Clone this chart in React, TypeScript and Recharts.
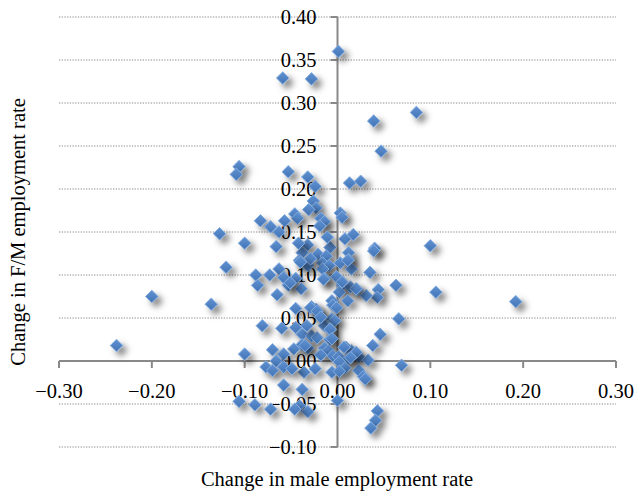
import React from "react";
import {
  ScatterChart,
  Scatter,
  XAxis,
  YAxis,
  ReferenceLine,
  ReferenceDot,
} from "recharts";

// Change in male employment rate (x) and change in F/M employment rate (y)
const maleChange: number[] = [
  0.001, -0.059, -0.028, 0.039, 0.085, 0.047, -0.106, -0.109, -0.053, -0.032,
  0.013, 0.025, -0.024, -0.026, -0.023, -0.031, -0.046, -0.043, -0.057, -0.083,
  -0.072, -0.018, -0.014, -0.019, 0.003, 0.005, -0.127, -0.063, 0.008, 0.017,
  -0.1, -0.066, -0.032, -0.008, 0.04, 0.1, -0.038, -0.021, -0.012, 0.012,
  0.012, -0.041, -0.032, -0.016, -0.009, 0.003, -0.12, -0.063, -0.016, 0.015,
  -0.088, -0.073, -0.058, -0.045, -0.014, -0.001, 0.035, -0.086, -0.053, -0.039,
  0.005, 0.014, 0.021, 0.063, 0.044, 0.043, 0.031, 0.106, 0.002, -0.2,
  -0.065, -0.136, 0.192, -0.006, -0.005, 0.011, -0.045, -0.028, -0.023, -0.001,
  -0.019, -0.006, -0.003, 0.066, -0.081, -0.06, -0.045, -0.014, -0.008, -0.038,
  -0.028, -0.022, 0.046, -0.008, -0.238, 0.038, -0.038, -0.032, -0.047, -0.07,
  -0.014, -0.01, 0.009, 0.015, -0.1, -0.058, -0.018, -0.005, 0.001, 0.023,
  0.012, 0.033, -0.066, 0.002, 0.069, -0.077, -0.07, -0.058, -0.036, -0.024,
  -0.006, 0.008, 0.002, 0.023, 0.028, -0.058, -0.038, 0.0, -0.106, -0.089,
  -0.072, -0.041, -0.032, 0.043, 0.041, 0.036, -0.051, -0.029, 0.02, 0.005,
  -0.015, 0.011, 0.039, -0.029, -0.022, -0.018, -0.008, -0.006, -0.033, -0.035,
  0.007, 0.02, -0.04, -0.011, -0.042, -0.049, -0.046, 0.03, 0.014,
];
const fmChange: number[] = [
  0.36, 0.329, 0.328, 0.279, 0.289, 0.244, 0.226, 0.217, 0.22, 0.214,
  0.207, 0.209, 0.203, 0.186, 0.178, 0.176, 0.171, 0.166, 0.163, 0.163,
  0.156, 0.166, 0.162, 0.157, 0.172, 0.167, 0.148, 0.15, 0.142, 0.147,
  0.137, 0.133, 0.135, 0.132, 0.131, 0.134, 0.126, 0.124, 0.122, 0.126,
  0.118, 0.117, 0.111, 0.114, 0.111, 0.114, 0.109, 0.107, 0.107, 0.107,
  0.1, 0.1, 0.097, 0.096, 0.096, 0.098, 0.103, 0.088, 0.088, 0.084,
  0.088, 0.086, 0.083, 0.088, 0.083, 0.074, 0.076, 0.08, 0.08, 0.075,
  0.077, 0.066, 0.069, 0.07, 0.065, 0.07, 0.061, 0.063, 0.06, 0.062,
  0.053, 0.049, 0.047, 0.049, 0.041, 0.038, 0.039, 0.041, 0.036, 0.031,
  0.029, 0.027, 0.031, 0.025, 0.018, 0.018, 0.019, 0.015, 0.014, 0.013,
  0.015, 0.012, 0.016, 0.012, 0.008, 0.008, 0.007, 0.006, 0.005, 0.005,
  0.003, 0.001, 0.0, -0.001, -0.005, -0.007, -0.011, -0.007, -0.013, -0.009,
  -0.013, -0.008, -0.012, -0.011, -0.018, -0.028, -0.033, -0.046, -0.047, -0.051,
  -0.056, -0.052, -0.059, -0.058, -0.069, -0.078, 0.091, 0.119, 0.084, 0.092,
  0.095, 0.117, 0.128, 0.062, 0.058, 0.051, 0.037, 0.026, 0.041, 0.018,
  0.016, 0.01, 0.115, 0.144, 0.137, -0.009, -0.056, -0.021, 0.004,
];

const xTicks: number[] = [-0.3, -0.2, -0.1, 0, 0.1, 0.2, 0.3];
const xTickLabels: string[] = ["−0.30", "−0.20", "−0.10", "0.00", "0.10", "0.20", "0.30"];
const yTicks: number[] = [-0.1, -0.05, 0, 0.05, 0.1, 0.15, 0.2, 0.25, 0.3, 0.35, 0.4];
const yTickLabels: string[] = [
  "−0.10", "−0.05", "0.00", "0.05", "0.10", "0.15", "0.20", "0.25", "0.30", "0.35", "0.40",
];

const xTitle = "Change in male employment rate";
const yTitle = "Change in F/M employment rate";

const points = maleChange.map((x, i) => ({ x, y: fmChange[i] }));

const FONT = "'Liberation Serif', 'DejaVu Serif', serif";
const AXIS = "#898989";

const Diamond = (props: any) => {
  const { cx, cy } = props;
  if (cx == null || cy == null) return null;
  const r = 6.3;
  const d = `M${cx},${cy - r} L${cx + r},${cy} L${cx},${cy + r} L${cx - r},${cy} Z`;
  return (
    <path
      d={d}
      fill="url(#diamondFill)"
      stroke="#86AEE0"
      strokeWidth={1}
      filter="url(#diamondShadow)"
    />
  );
};

const XTick = (label: string) => (props: any) => {
  const { cx, cy } = props;
  if (cx == null || cy == null) return null;
  return (
    <g>
      <line x1={cx} y1={cy} x2={cx} y2={cy + 7} stroke={AXIS} strokeWidth={2} />
      <text
        x={cx}
        y={cy + 37}
        textAnchor="middle"
        fontFamily={FONT}
        fontSize={20.5}
        fill="#000"
      >
        {label}
      </text>
    </g>
  );
};

const YTick = (label: string) => (props: any) => {
  const { cx, cy } = props;
  if (cx == null || cy == null) return null;
  return (
    <g>
      <line x1={cx - 7} y1={cy} x2={cx} y2={cy} stroke={AXIS} strokeWidth={2} />
      <text
        x={cx - 21}
        y={cy + 7}
        textAnchor="end"
        fontFamily={FONT}
        fontSize={20.5}
        fill="#000"
      >
        {label}
      </text>
    </g>
  );
};

export default function App() {
  return (
    <div style={{ position: "absolute", left: 0, top: 0, width: 634, height: 495, background: "#fff" }}>
      <svg width={0} height={0} style={{ position: "absolute" }}>
        <defs>
          <linearGradient id="diamondFill" x1="0" y1="0" x2="0" y2="1">
            <stop offset="0%" stopColor="#6092D2" />
            <stop offset="100%" stopColor="#4374B5" />
          </linearGradient>
          <filter id="diamondShadow" x="-100%" y="-100%" width="300%" height="300%">
            <feDropShadow dx={4.5} dy={4.5} stdDeviation={3} floodColor="#000" floodOpacity={0.5} />
          </filter>
        </defs>
      </svg>
      <ScatterChart
        width={634}
        height={495}
        margin={{ top: 17, right: 18, bottom: 48, left: 59 }}
      >
        <XAxis
          type="number"
          dataKey="x"
          domain={[-0.3, 0.3]}
          ticks={xTicks}
          height={0}
          tick={false}
          tickLine={false}
          axisLine={false}
        />
        <YAxis
          type="number"
          dataKey="y"
          domain={[-0.1, 0.4]}
          ticks={yTicks}
          width={0}
          tick={false}
          tickLine={false}
          axisLine={false}
        />
        {yTicks.map((v, i) => (
          <ReferenceLine
            key={`g${i}`}
            y={v}
            stroke="#8a8a8a"
            strokeWidth={1}
            strokeDasharray="1.3 1.4"
          />
        ))}
        <ReferenceLine y={0} stroke={AXIS} strokeWidth={2} />
        <ReferenceLine x={0} stroke={AXIS} strokeWidth={2} />
        {xTicks.map((v, i) => (
          <ReferenceDot key={`xt${i}`} x={v} y={0} r={0} ifOverflow="visible" shape={XTick(xTickLabels[i])} />
        ))}
        {yTicks.map((v, i) => (
          <ReferenceDot key={`yt${i}`} x={0} y={v} r={0} ifOverflow="visible" shape={YTick(yTickLabels[i])} />
        ))}
        <Scatter data={points} shape={Diamond} isAnimationActive={false} />
        <text
          x={337}
          y={486}
          textAnchor="middle"
          fontFamily={FONT}
          fontSize={20.5}
          fill="#000"
        >
          {xTitle}
        </text>
        <text
          x={25}
          y={232}
          transform="rotate(-90 25 232)"
          textAnchor="middle"
          fontFamily={FONT}
          fontSize={20.5}
          fill="#000"
        >
          {yTitle}
        </text>
      </ScatterChart>
    </div>
  );
}
